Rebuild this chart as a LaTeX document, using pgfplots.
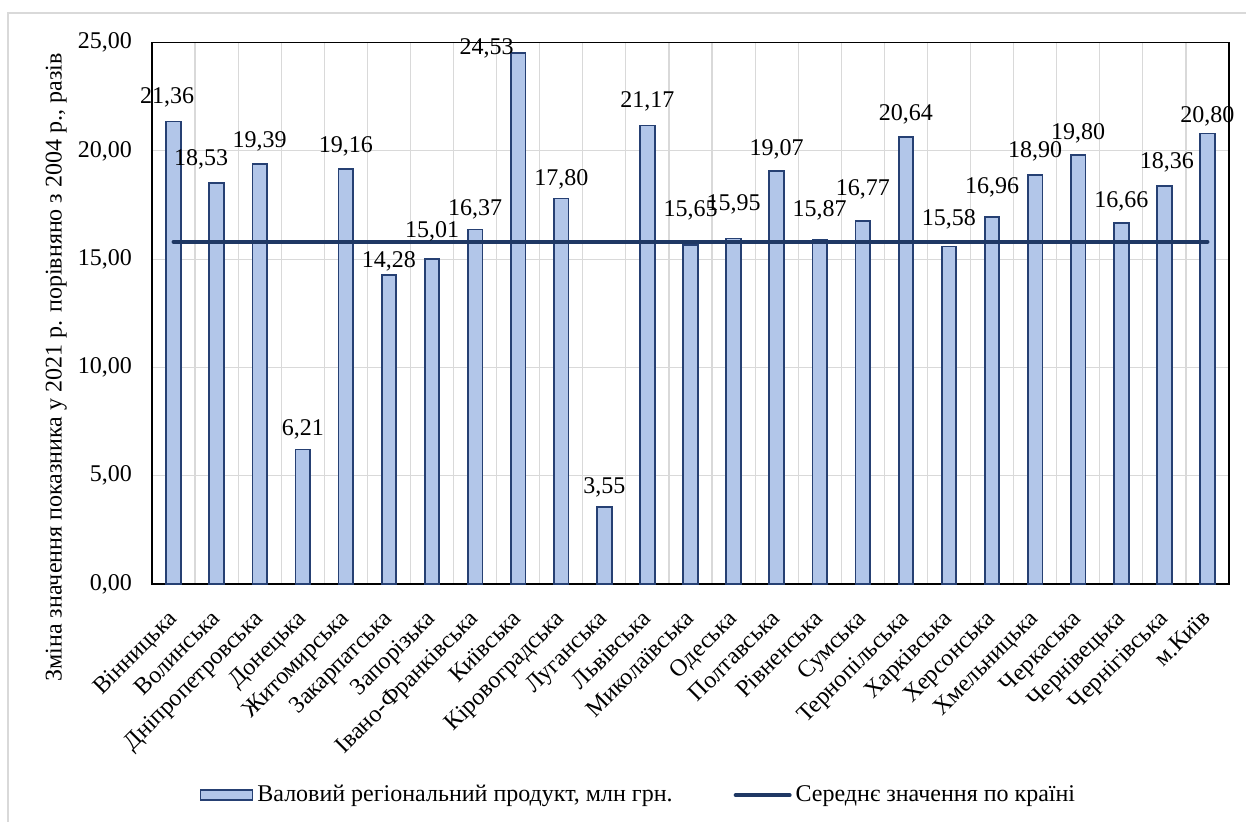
\documentclass[border=0pt]{standalone}
\usepackage{fontspec}
\setmainfont{Liberation Serif}
\usepackage{pgfplots}
\pgfplotsset{compat=1.18}
\usepackage{pgfplotstable}

\definecolor{barfill}{RGB}{178,198,233}
\definecolor{bardraw}{RGB}{38,64,115}
\definecolor{avgline}{RGB}{31,56,100}
\definecolor{gridc}{RGB}{217,217,217}

\pgfplotsset{
  barlegend/.style={legend image code/.code={\draw[##1, line width=0.8pt] (0pt,-2.5pt) rectangle (26pt,2.5pt);}},
  linelegend/.style={legend image code/.code={\draw[##1] (0pt,0pt) -- (27pt,0pt);}},
}

\pgfplotstableread{
x y
0 21.36
1 18.53
2 19.39
3 6.21
4 19.16
5 14.28
6 15.01
7 16.37
8 24.53
9 17.80
10 3.55
11 21.17
12 15.65
13 15.95
14 19.07
15 15.87
16 16.77
17 20.64
18 15.58
19 16.96
20 18.90
21 19.80
22 16.66
23 18.36
24 20.80
}\bardata

\pgfplotstableread{
x y lab
-0.15 22.46 21,36
0.64 19.59 18,53
2.0 20.43 19,39
3.0 7.12 6,21
4.0 20.19 19,16
5.0 14.88 14,28
6.0 16.27 15,01
7.0 17.28 16,37
7.27 24.75 24,53
9.0 18.67 17,80
10.0 4.48 3,55
11.0 22.27 21,17
12.0 17.24 15,65
13.0 17.51 15,95
14.0 20.06 19,07
15.0 17.24 15,87
16.0 18.21 16,77
17.0 21.67 20,64
18.0 16.82 15,58
19.0 18.30 16,96
20.0 19.96 18,90
21.0 20.80 19,80
22.0 17.65 16,66
23.06 19.45 18,36
24.0 21.58 20,80
}\labdata

\begin{document}
\begin{tikzpicture}[font=\fontsize{12}{14}\selectfont]
\useasboundingbox (-76pt,-119pt) rectangle (547pt,292pt);
\draw[gridc, line width=0.6pt] (-72pt,-130pt) -- (-72pt,285.5pt) -- (560pt,285.5pt);
\begin{axis}[
  at={(0,0)}, anchor=south west,
  scale only axis, width=538.5pt, height=270.7pt,
  xmin=-0.5, xmax=24.5, ymin=0, ymax=25,
  ytick={0,5,10,15,20,25},
  xtick={0,...,24},
  xticklabels={Вінницька,Волинська,Дніпропетровська,Донецька,Житомирська,Закарпатська,Запорізька,Івано-Франківська,Київська,Кіровоградська,Луганська,Львівська,Миколаївська,Одеська,Полтавська,Рівненська,Сумська,Тернопільська,Харківська,Херсонська,Хмельницька,Черкаська,Чернівецька,Чернігівська,м.Київ},
  minor xtick={-0.5,0.5,...,24.5},
  ymajorgrids, xminorgrids,
  grid style={gridc, line width=0.6pt},
  minor grid style={gridc, line width=0.6pt},
  major tick length=0pt, minor tick length=0pt,
  axis line style={black, line width=0.75pt},
  yticklabel style={xshift=-6.5pt, /pgf/number format/.cd, fixed, fixed zerofill, precision=2, use comma, assume math mode=true},
  xticklabel style={xshift=-3.5pt, yshift=-12pt, rotate=45, anchor=north east, inner sep=0pt},
  ylabel={Зміна значення показника у 2021 р. порівняно з 2004 р., разів},
  every axis y label/.style={at={(axis description cs:-0.089,0.40)}, rotate=90, anchor=center},
  legend style={at={(0.044,-0.39)}, anchor=west, draw=none, fill=none, legend columns=2,
    /tikz/every even column/.append style={column sep=28.5pt}, inner sep=0pt},
  legend cell align=left,
  clip=false,
]
\addplot[ybar, bar width=7.3pt, fill=barfill, draw=bardraw, line width=0.9pt, barlegend]
  table[x=x,y=y]{\bardata};
\addlegendentry{Валовий регіональний продукт, млн грн.}
\addplot[avgline, line width=2pt, line cap=round, mark=none, linelegend]
  coordinates {(0,15.8) (24,15.8)};
\addlegendentry{Середнє значення по країні}
\addplot[draw=none, mark=none, forget plot, nodes near coords, point meta=explicit symbolic,
  every node near coord/.append style={anchor=center, inner sep=0pt, text=black}]
  table[x=x,y=y,meta=lab]{\labdata};
\end{axis}
\end{tikzpicture}
\end{document}
